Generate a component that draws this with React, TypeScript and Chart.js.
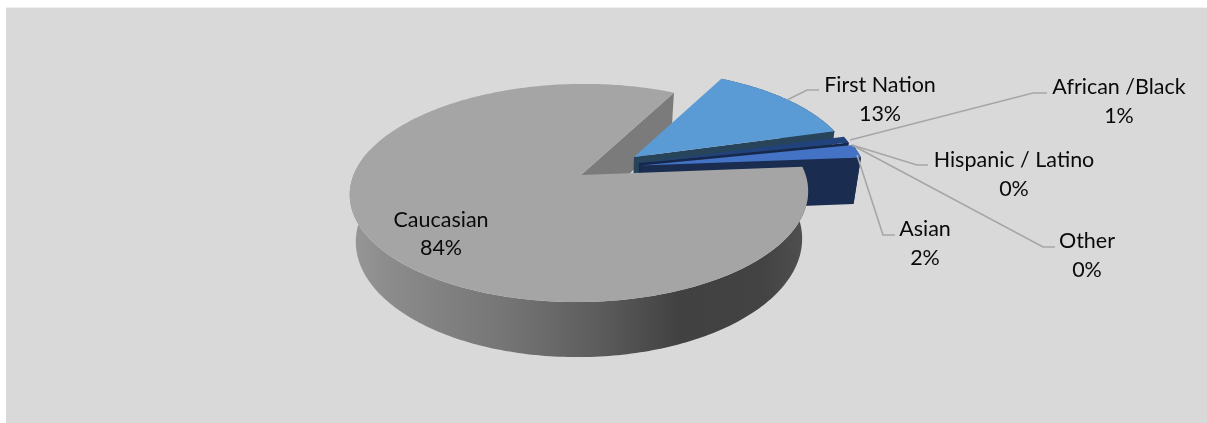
import React, { useEffect, useRef } from "react";
import { Chart, PieController, registerables } from "chart.js";

const categories = ["Caucasian", "First Nation", "African /Black", "Hispanic / Latino", "Other", "Asian"];
const shares = [84, 13, 1, 0, 0, 2];
const topColors = ["#a5a5a5", "#5b9bd5", "#22427c", "#264478", "#636363", "#4472c4"];

const WIDTH = 1207;
const HEIGHT = 423;
const FONT = '21.5px Lato, "Open Sans", sans-serif';

// Projection of the tilted pie onto the canvas.
const RX = 226;
const RY = 106;
const THICKNESS = 46;
const PERSPECTIVE = 0.165;
const DEPTH_SHRINK = 0.027;
const TILT = 4.5;
const AXIS_X = 580;

// Where each exploded slice's apex lands, how its rim is offset, and its face colours.
const sliceGeometry = [
  { vx: 581, vy: 175, depth: 0, skew: 6, flare: -3, thick: 1, cut: "#7b7b7b", side: "#555555" },
  { vx: 634, vy: 157, depth: -0.17, skew: 13, flare: 2, thick: 1, cut: "#27445a", side: "#27445a" },
  { vx: 639, vy: 163, depth: -0.12, skew: 8, flare: 2, thick: 1.03, cut: "#16294d", side: "#16294d" },
  { vx: 640, vy: 163, depth: -0.1, skew: 8, flare: 2, thick: 1.05, cut: "#1a2c50", side: "#1a2c50" },
  { vx: 640, vy: 163, depth: -0.1, skew: 8, flare: 2, thick: 1.05, cut: "#1a2c50", side: "#1a2c50" },
  { vx: 641, vy: 165.5, depth: -0.1, skew: 8, flare: 3, thick: 1.05, cut: "#1a2c50", side: "#1a2c50" },
];

// Text centres (first line) and leader polylines for the data labels.
const labelLayout = [
  { x: 441, y: 220, leader: [] },
  { x: 880, y: 85.5, leader: [[787, 100], [807, 90], [819, 90]] },
  { x: 1119, y: 87.5, leader: [[850, 140], [1033, 93], [1047, 93]] },
  { x: 1014, y: 160.5, leader: [[852, 145], [917, 165], [928, 165]] },
  { x: 1087, y: 241.5, leader: [[852, 145], [1043, 247], [1055, 247]] },
  { x: 925, y: 229.5, leader: [[857, 155], [883, 235], [895, 235]] },
];

type Geo = (typeof sliceGeometry)[number];

function project(geo: Geo, radius: number, angle: number, h: number): [number, number] {
  const px = radius * Math.cos(angle);
  const py = radius * Math.sin(angle);
  const s = (1 / (1 - PERSPECTIVE * (py + geo.depth))) * (1 + PERSPECTIVE * geo.depth);
  const shrink = 1 / (1 + DEPTH_SHRINK * h);
  const x = geo.vx + (RX * px + geo.skew * py + geo.flare * radius) * s;
  const y = geo.vy + RY * py * s - TILT * px;
  return [AXIS_X + (x - AXIS_X) * shrink, y + THICKNESS * geo.thick * h * s];
}

function ring(geo: Geo, start: number, end: number, h: number): [number, number][] {
  const steps = Math.max(2, Math.ceil(((end - start) * 180) / Math.PI));
  const pts: [number, number][] = [];
  for (let i = 0; i <= steps; i++) pts.push(project(geo, 1, start + ((end - start) * i) / steps, h));
  return pts;
}

function fillPath(ctx: CanvasRenderingContext2D, pts: [number, number][], fill: string | CanvasGradient) {
  ctx.beginPath();
  pts.forEach(([x, y], i) => (i ? ctx.lineTo(x, y) : ctx.moveTo(x, y)));
  ctx.closePath();
  ctx.fillStyle = fill;
  ctx.fill();
}

function cutFace(ctx: CanvasRenderingContext2D, geo: Geo, angle: number, fill: string) {
  fillPath(ctx, [project(geo, 0, 0, 0), project(geo, 1, angle, 0), project(geo, 1, angle, 1), project(geo, 0, 0, 1)], fill);
}

function shell(ctx: CanvasRenderingContext2D, geo: Geo, start: number, end: number, fill: string | CanvasGradient) {
  fillPath(ctx, [...ring(geo, start, end, 0), ...ring(geo, start, end, 1).reverse()], fill);
}

function topFace(ctx: CanvasRenderingContext2D, geo: Geo, start: number, end: number, fill: string) {
  fillPath(ctx, [project(geo, 0, 0, 0), ...ring(geo, start, end, 0)], fill);
}

// Pie controller that paints its arcs as an extruded, exploded disc.
class ExtrudedPie extends PieController {
  static id = "extrudedPie";

  draw() {
    const ctx: CanvasRenderingContext2D = this.chart.ctx;
    const arcs = this.getMeta().data as any[];
    const angles = arcs.map((a) => a.getProps(["startAngle", "endAngle"], true));
    const fills = arcs.map((a) => a.options.backgroundColor);
    ctx.save();

    // The main slice's far cut face sits behind every other slice.
    cutFace(ctx, sliceGeometry[0], angles[0].endAngle, sliceGeometry[0].cut);

    for (let i = 1; i < arcs.length; i++) {
      const { startAngle, endAngle } = angles[i];
      if (endAngle - startAngle < 1e-6) continue;
      const geo = sliceGeometry[i];
      shell(ctx, geo, startAngle, endAngle, geo.side);
      cutFace(ctx, geo, endAngle, geo.cut);
      topFace(ctx, geo, startAngle, endAngle, fills[i]);
    }

    // The main slice's rim and top come last, in front of the small slices.
    const { startAngle, endAngle } = angles[0];
    const rim = ctx.createLinearGradient(350, 0, 808, 0);
    rim.addColorStop(0, "#989898");
    rim.addColorStop(0.08, "#8c8c8c");
    rim.addColorStop(0.35, "#747474");
    rim.addColorStop(0.55, "#5b5b5b");
    rim.addColorStop(0.72, "#414141");
    rim.addColorStop(0.9, "#434343");
    rim.addColorStop(1, "#505050");
    shell(ctx, sliceGeometry[0], Math.max(startAngle, -0.2), Math.min(endAngle, Math.PI + 0.3), rim);
    topFace(ctx, sliceGeometry[0], startAngle, endAngle, fills[0]);
    ctx.restore();
  }
}

Chart.register(...registerables, ExtrudedPie);

const panelPlugin = {
  id: "panel",
  beforeDraw(chart: Chart) {
    const { ctx } = chart;
    ctx.save();
    ctx.fillStyle = "#ffffff";
    ctx.fillRect(0, 0, WIDTH, HEIGHT);
    ctx.fillStyle = "#d9d9d9";
    ctx.fillRect(6, 7.6, WIDTH - 6, HEIGHT);
    ctx.restore();
  },
};

const labelPlugin = {
  id: "sliceLabels",
  afterDatasetsDraw(chart: Chart) {
    const { ctx } = chart;
    ctx.save();
    ctx.strokeStyle = "#a6a6a6";
    ctx.lineWidth = 1.6;
    labelLayout.forEach(({ leader }) => {
      if (!leader.length) return;
      ctx.beginPath();
      leader.forEach(([x, y], i) => (i ? ctx.lineTo(x, y) : ctx.moveTo(x, y)));
      ctx.stroke();
    });
    ctx.fillStyle = "#0a0a0a";
    ctx.font = FONT;
    ctx.textAlign = "center";
    ctx.textBaseline = "middle";
    categories.forEach((name, i) => {
      const { x, y } = labelLayout[i];
      ctx.fillText(name, x, y);
      ctx.fillText(`${shares[i]}%`, x, y + 28.5);
    });
    ctx.restore();
  },
};

export default function App() {
  const canvasRef = useRef<HTMLCanvasElement>(null);

  useEffect(() => {
    if (!canvasRef.current) return;
    const chart = new Chart(canvasRef.current, {
      type: "extrudedPie" as any,
      data: {
        labels: categories,
        datasets: [{ data: shares, backgroundColor: topColors, borderWidth: 0 }],
      },
      options: {
        animation: false,
        responsive: false,
        rotation: 88,
        plugins: { legend: { display: false }, tooltip: { enabled: false } },
      } as any,
      plugins: [panelPlugin, labelPlugin],
    });
    return () => chart.destroy();
  }, []);

  return (
    <canvas
      ref={canvasRef}
      width={WIDTH}
      height={HEIGHT}
      style={{ position: "fixed", left: 0, top: 0, display: "block" }}
    />
  );
}
